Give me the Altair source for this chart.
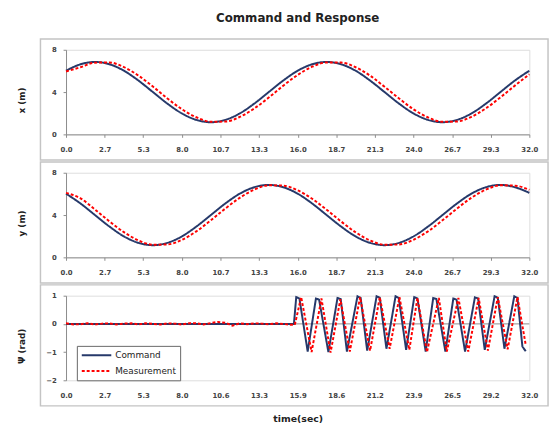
import json
import altair as alt
import pandas as pd

FONT = "DejaVu Sans"
W, H = 471, 86
CMD_COLOR = "#26396a"
MEAS_COLOR = "#ff0000"
AXIS_GRAY = "#8c8c8c"
BORDER = "#c4c4c4"
SERIES = ["Command", "Measurement"]
TITLE = "Command and Response"

# ---- x-axis ticks / labels -------------------------------------------------
TICKS = [0.0, 2.67, 5.33, 8.0, 10.67, 13.33, 16.0, 18.67, 21.33, 24.0, 26.67, 29.33, 32.0]
LABELS_XY = ["0.0", "2.7", "5.3", "8.0", "10.7", "13.3", "16.0", "18.7", "21.3", "24.0", "26.7", "29.3", "32.0"]
LABELS_PSI = ["0.0", "2.7", "5.3", "8.0", "10.6", "13.3", "15.9", "18.6", "21.2", "23.9", "26.5", "29.2", "32.0"]

# ---- x (m) -------------------------------------------------------------------
t_xy = [0, 1, 2, 3, 4, 5, 6, 7, 8, 9, 10, 11, 12, 13, 14, 15, 16,
        17, 18, 19, 20, 21, 22, 23, 24, 25, 26, 27, 28, 29, 30, 31, 32]
x_cmd = [6.02, 6.63, 6.85, 6.63, 6.02, 5.09, 4.00, 2.91, 1.98, 1.37, 1.15, 1.37, 1.98, 2.91, 4.00, 5.09, 6.02,
         6.63, 6.85, 6.63, 6.02, 5.09, 4.00, 2.91, 1.98, 1.37, 1.15, 1.37, 1.98, 2.91, 4.00, 5.09, 6.02]
x_meas = [5.95, 6.35, 6.78, 6.80, 6.36, 5.56, 4.52, 3.40, 2.38, 1.62, 1.20, 1.21, 1.65, 2.45, 3.48, 4.60, 5.62,
          6.40, 6.80, 6.79, 6.35, 5.55, 4.50, 3.40, 2.37, 1.60, 1.19, 1.22, 1.66, 2.46, 3.50, 4.61, 5.68]

# ---- y (m) -------------------------------------------------------------------
y_cmd = [6.02, 5.09, 4.00, 2.91, 1.98, 1.37, 1.15, 1.37, 1.98, 2.91, 4.00, 5.09, 6.02, 6.63, 6.85, 6.63, 6.02,
         5.09, 4.00, 2.91, 1.98, 1.37, 1.15, 1.37, 1.98, 2.91, 4.00, 5.09, 6.02, 6.63, 6.85, 6.63, 6.10]
y_meas = [6.10, 5.58, 4.52, 3.40, 2.38, 1.60, 1.19, 1.22, 1.66, 2.46, 3.50, 4.61, 5.63, 6.40, 6.81, 6.78, 6.34,
          5.54, 4.50, 3.39, 2.37, 1.60, 1.19, 1.22, 1.66, 2.46, 3.50, 4.61, 5.63, 6.40, 6.81, 6.78, 6.38]

# ---- psi (rad) ---------------------------------------------------------------
psi_cmd_t = [0.0, 15.74, 15.90, 16.12, 16.69, 17.26, 17.48, 18.12, 18.75, 18.97, 19.40, 20.13, 20.35, 20.80,
             21.45, 21.67, 22.13, 22.76, 22.98, 23.49, 24.05, 24.27, 24.84, 25.36, 25.58, 26.20, 26.75, 26.97,
             27.56, 28.24, 28.46, 28.92, 29.60, 29.82, 30.28, 30.96, 31.18, 31.52, 31.75]
psi_cmd_v = [0.0, 0.0, 0.95, 0.90, -0.98, 0.90, 0.86, -1.00, 0.92, 0.88, -0.98, 0.98, 0.92, -0.95,
             0.98, 0.93, -0.88, 0.98, 0.92, -0.92, 0.95, 0.90, -0.98, 0.92, 0.88, -0.98, 0.90, 0.86,
             -0.98, 0.94, 0.90, -0.92, 0.98, 0.93, -0.88, 0.98, 0.92, -0.80, -0.97]
psi_meas_t = [0.0, 0.5, 1.0, 1.5, 2.0, 2.5, 3.0, 3.5, 4.0, 4.5, 5.0, 5.5, 6.0, 6.5, 7.0, 7.5,
              8.0, 8.5, 9.0, 9.5, 10.0, 10.5, 11.0, 11.5, 12.0, 12.5, 13.0, 13.5, 14.0, 14.5, 15.0, 15.5,
              15.8, 16.24, 16.96, 17.64, 18.27, 18.95, 19.60, 20.31, 21.00, 21.67, 22.35, 23.03, 23.71,
              24.27, 24.93, 25.75, 26.30, 27.10, 27.78, 28.50, 29.14, 29.82, 30.50, 31.18, 31.75]
psi_meas_v = [0.02, -0.02, -0.01, 0.02, -0.02, 0.01, 0.02, -0.02, 0.01, 0.02, -0.02, 0.02, 0.00, -0.02, 0.02, 0.01,
              -0.02, 0.02, 0.02, -0.02, 0.03, 0.07, 0.04, -0.06, 0.02, -0.01, 0.02, 0.01, -0.01, 0.02, 0.00, -0.03,
              -0.03, 0.95, -1.00, 0.90, -1.02, 0.88, -0.98, 0.95, -0.95, 0.95, -0.88, 0.95, -0.92,
              0.92, -1.00, 0.92, -0.98, 0.92, -0.98, 0.92, -0.95, 0.95, -0.90, 0.95, -0.75]


def long_df(t_c, v_c, t_m, v_m):
    return pd.DataFrame({
        "t": list(t_c) + list(t_m),
        "v": list(v_c) + list(v_m),
        "series": [SERIES[0]] * len(t_c) + [SERIES[1]] * len(t_m),
    })


color_scale = alt.Scale(domain=SERIES, range=[CMD_COLOR, MEAS_COLOR])
dash_scale = alt.Scale(domain=SERIES, range=[[1, 0], [3, 2]])
one_row = pd.DataFrame({"k": [0]})


def x_axis(labels, bottom_line=True, title=None):
    expr = f"{json.dumps(labels)}[indexof({json.dumps(TICKS)}, datum.value)]"
    kw = dict(values=TICKS, labelExpr=expr, grid=False, labelFont=FONT, labelFontSize=7,
              labelFontWeight="bold", labelColor="#444444", labelPadding=8,
              domain=bottom_line, ticks=bottom_line, tickSize=3, tickColor=AXIS_GRAY,
              domainColor=AXIS_GRAY, labelFlush=False)
    if not bottom_line:
        kw["labelPadding"] = 12
    if title is not None:
        kw.update(title=title, titleFont=FONT, titleFontSize=9.5, titleFontWeight="bold",
                  titleColor="#222222", titleY=44, titleBaseline="bottom")
    else:
        kw["title"] = None
    return alt.Axis(**kw)


def y_axis(title, values):
    return alt.Axis(values=values, title=title, grid=False, labelFont=FONT, labelFontSize=7,
                    labelFontWeight="bold", labelColor="#444444", labelPadding=7, tickSize=3,
                    tickColor=AXIS_GRAY, domainColor=AXIS_GRAY, titleFont=FONT, titleFontSize=9,
                    titleFontWeight="bold", titleColor="#222222", titleX=-45, titleY=H / 2 + 8,
                    titleBaseline="middle", titleAngle=270, labelOverlap=False)


def panel(df, ytitle, ydomain, yvalues, labels, interp, legend=None, zero_rule=False,
          xtitle=None, title=None):
    layers = []
    yscale = alt.Scale(domain=ydomain, nice=False)
    if title is not None:
        # invisible anchor fixing the top-left corner of the whole figure
        layers.append(alt.Chart(one_row).mark_rect(fill="white", strokeWidth=0).encode(
            x=alt.value(-58), x2=alt.value(-57), y=alt.value(-38), y2=alt.value(-37)))
        layers.append(alt.Chart(one_row).mark_text(
            font=FONT, fontSize=12, fontWeight="bold", color="#222222", align="center",
            baseline="middle").encode(x=alt.value(W / 2), y=alt.value(-32), text=alt.value(title)))
    layers.append(alt.Chart(one_row).mark_rect(fillOpacity=0, stroke=BORDER, strokeWidth=1.5).encode(
        x=alt.value(-26), x2=alt.value(490), y=alt.value(-11), y2=alt.value(112)))
    if zero_rule:
        layers.append(alt.Chart(pd.DataFrame({"v": [0]})).mark_rule(color=AXIS_GRAY, strokeWidth=1).encode(
            y=alt.Y("v:Q", scale=yscale, axis=y_axis(ytitle, yvalues))))
    lines = alt.Chart(df).mark_line(strokeWidth=2, interpolate=interp).encode(
        x=alt.X("t:Q", scale=alt.Scale(domain=[0, 32], nice=False, zero=False),
                axis=x_axis(labels, bottom_line=not zero_rule, title=xtitle)),
        y=alt.Y("v:Q", scale=yscale, axis=y_axis(ytitle, yvalues)),
        color=alt.Color("series:N", scale=color_scale, legend=legend),
        strokeDash=alt.StrokeDash("series:N", scale=dash_scale, legend=legend),
        order=alt.Order("idx:Q"),
    ).transform_calculate(idx="datum.t")
    layers.append(lines)
    return alt.layer(*layers).properties(width=W, height=H)


legend = alt.Legend(title=None, orient="none", legendX=11, legendY=51, direction="vertical",
                    symbolType="stroke", symbolSize=900, symbolStrokeWidth=2, labelFont=FONT,
                    labelFontSize=9, labelColor="#222222", strokeColor="#666666", fillColor="white",
                    padding=4, rowPadding=5, labelOffset=3, clipHeight=11)

p1 = panel(long_df(t_xy, x_cmd, t_xy, x_meas), "x (m)", [0, 8], [0, 4, 8], LABELS_XY, "monotone",
           title=TITLE)
p2 = panel(long_df(t_xy, y_cmd, t_xy, y_meas), "y (m)", [0, 8], [0, 4, 8], LABELS_XY, "monotone")
p3 = panel(long_df(psi_cmd_t, psi_cmd_v, psi_meas_t, psi_meas_v), "Ψ (rad)", [-2, 1], [-2, -1, 0, 1],
           LABELS_PSI, "linear", legend=legend, zero_rule=True, xtitle="time(sec)")

chart = alt.vconcat(p1, p2, p3, spacing=39, bounds="flush").resolve_legend(
    color="independent", strokeDash="independent"
).properties(padding=0).configure_view(stroke=None).configure(font=FONT)

chart.save("out.html", embed_options={"renderer": "svg", "actions": False})
